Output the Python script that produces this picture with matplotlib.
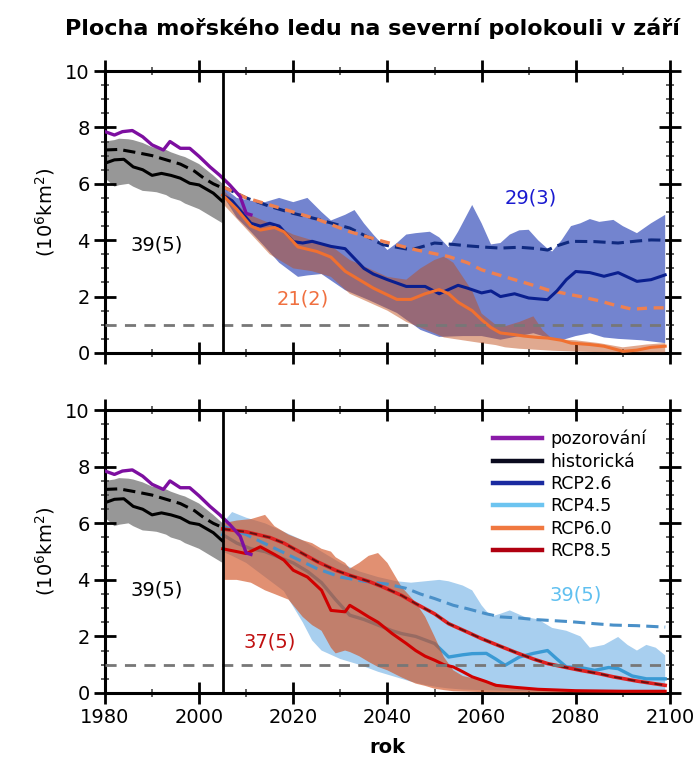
import matplotlib
matplotlib.use("Agg")
import matplotlib.pyplot as plt
from matplotlib.ticker import MultipleLocator
from matplotlib.lines import Line2D

plt.rcParams['font.family'] = ['DejaVu Sans']

# ---------------- data ----------------
obs_years = [1980, 1982, 1983.7, 1985.8, 1988, 1990, 1992.4, 1993.8, 1996, 1998, 2000, 2002.3, 2004.4, 2006.5, 2008.7, 2010, 2011]
obs_vals = [7.85, 7.73, 7.85, 7.89, 7.67, 7.38, 7.2, 7.5, 7.26, 7.26, 6.97, 6.6, 6.3, 5.96, 5.55, 4.95, 4.9]

hist_years = [1980, 1982, 1984, 1986, 1988, 1990, 1992, 1994, 1996, 1998, 2000, 2003, 2005]
hist_mean = [6.73, 6.85, 6.87, 6.6, 6.5, 6.3, 6.37, 6.3, 6.2, 6.02, 5.96, 5.67, 5.37]
hist_sub_years = [1980, 1983, 1987, 1990, 1993, 1996, 1999, 2001, 2003, 2005]
hist_sub = [7.2, 7.22, 7.1, 7.0, 6.85, 6.7, 6.45, 6.2, 6.0, 5.85]
hist_band_years = [1980, 1982, 1983, 1985, 1986, 1988, 1990, 1991, 1993, 1994, 1996, 1997, 2000, 2003, 2005]
hist_band_hi = [7.5, 7.55, 7.6, 7.58, 7.55, 7.45, 7.3, 7.28, 7.2, 7.12, 7.0, 6.95, 6.7, 6.3, 6.0]
hist_band_lo = [6.2, 5.9, 5.95, 6.0, 5.9, 5.75, 5.72, 5.7, 5.6, 5.5, 5.4, 5.3, 5.1, 4.8, 4.6]

# RCP2.6
r26_years = [2005, 2007, 2009, 2011, 2013, 2015, 2017, 2020, 2022, 2024, 2028, 2031, 2033, 2035, 2037, 2040, 2044, 2048, 2051, 2053, 2055, 2057, 2060, 2062, 2064, 2067, 2070, 2074, 2076, 2078, 2080, 2083, 2086, 2089, 2093, 2096, 2099]
r26_mean = [5.6, 5.4, 5.0, 4.6, 4.5, 4.6, 4.5, 3.95, 3.9, 3.96, 3.78, 3.7, 3.35, 3.0, 2.8, 2.6, 2.36, 2.36, 2.1, 2.25, 2.4, 2.3, 2.13, 2.2, 2.0, 2.1, 1.95, 1.89, 2.2, 2.6, 2.89, 2.85, 2.72, 2.85, 2.54, 2.6, 2.77]
r26_sub_years = [2005, 2010, 2015, 2020, 2025, 2032, 2036, 2039, 2042, 2045, 2048, 2050, 2054, 2057, 2061, 2064, 2068, 2072, 2074, 2076, 2079, 2084, 2089, 2093, 2096, 2099]
r26_sub = [5.9, 5.5, 5.2, 4.95, 4.75, 4.43, 4.1, 3.84, 3.75, 3.66, 3.8, 3.9, 3.85, 3.8, 3.75, 3.72, 3.75, 3.7, 3.65, 3.8, 3.96, 3.95, 3.9, 3.97, 4.01, 4.0]
r26_hi_years = [2005, 2008, 2011, 2014, 2017, 2020, 2023, 2026, 2028, 2031, 2033, 2035, 2037, 2040, 2042, 2044, 2046, 2049, 2051, 2053, 2055, 2058, 2060, 2062, 2064, 2066, 2068, 2070, 2072, 2074, 2075, 2077, 2079, 2081, 2083, 2085, 2088, 2090, 2093, 2096, 2099]
r26_hi = [5.9, 5.5, 5.4, 5.35, 5.5, 5.35, 5.5, 5.0, 4.7, 4.9, 5.07, 4.6, 4.2, 3.65, 3.9, 4.2, 4.25, 4.3, 4.1, 3.75, 4.3, 5.25, 4.6, 3.85, 3.9, 4.2, 4.35, 4.37, 4.0, 3.7, 3.6, 4.0, 4.5, 4.6, 4.75, 4.65, 4.72, 4.5, 4.25, 4.6, 4.9]
r26_lo_years = [2005, 2008, 2011, 2014, 2017, 2021, 2023, 2026, 2031, 2036, 2042, 2047, 2051, 2056, 2060, 2064, 2068, 2071, 2074, 2077, 2080, 2083, 2086, 2089, 2094, 2099]
r26_lo = [5.6, 4.8, 4.3, 3.76, 3.2, 2.7, 2.75, 2.8, 2.23, 1.88, 1.42, 0.82, 0.57, 0.6, 0.6, 0.47, 0.6, 0.7, 0.55, 0.45, 0.6, 0.7, 0.55, 0.5, 0.45, 0.35]

# RCP6.0
r60_years = [2005, 2008, 2011, 2013, 2016, 2018, 2021, 2025, 2028, 2031, 2034, 2037, 2042, 2045, 2048, 2051, 2053, 2055, 2058, 2060, 2062, 2064, 2067, 2069, 2072, 2074, 2077, 2079, 2083, 2086, 2088, 2090, 2093, 2096, 2099]
r60_mean = [5.6, 5.1, 4.5, 4.36, 4.45, 4.3, 3.76, 3.6, 3.4, 2.9, 2.6, 2.3, 1.9, 1.9, 2.1, 2.25, 2.1, 1.8, 1.5, 1.18, 0.9, 0.71, 0.65, 0.6, 0.55, 0.53, 0.45, 0.35, 0.3, 0.24, 0.15, 0.06, 0.1, 0.2, 0.24]
r60_sub_years = [2005, 2010, 2015, 2020, 2025, 2032, 2039, 2046, 2053, 2057, 2060, 2064, 2067, 2071, 2074, 2078, 2081, 2085, 2088, 2092, 2096, 2099]
r60_sub = [5.9, 5.5, 5.25, 5.0, 4.75, 4.3, 3.96, 3.66, 3.42, 3.2, 2.95, 2.75, 2.6, 2.4, 2.24, 2.1, 2.0, 1.85, 1.71, 1.55, 1.6, 1.6]
r60_band_years = [2005, 2010, 2015, 2020, 2024, 2028, 2032, 2036, 2040, 2044, 2047, 2050, 2052, 2054, 2056, 2058, 2060, 2063, 2065, 2068, 2071, 2073, 2075, 2080, 2085, 2090, 2095, 2099]
r60_hi = [5.8, 4.95, 4.6, 4.2, 4.0, 3.8, 3.3, 3.0, 2.7, 2.6, 3.0, 3.3, 3.42, 3.2, 2.7, 2.2, 1.4, 1.0, 0.95, 1.1, 1.3, 0.8, 0.5, 0.45, 0.35, 0.2, 0.3, 0.35]
r60_lo = [5.3, 4.4, 3.5, 3.0, 2.9, 2.7, 2.1, 1.8, 1.5, 1.1, 0.9, 0.7, 0.55, 0.5, 0.45, 0.4, 0.35, 0.28, 0.2, 0.15, 0.12, 0.1, 0.08, 0.05, 0.03, 0.02, 0.02, 0.02]

# RCP4.5
r45_years = [2005, 2008, 2011, 2014, 2017, 2020, 2023, 2026, 2029, 2032, 2035, 2038, 2041, 2043, 2046, 2050, 2053, 2056, 2058, 2061, 2063, 2065, 2068, 2071, 2074, 2076, 2078, 2081, 2084, 2087, 2089, 2092, 2095, 2099]
r45_mean = [5.6, 5.3, 5.1, 5.0, 4.8, 4.6, 4.3, 3.9, 3.3, 2.75, 2.6, 2.4, 2.2, 2.1, 2.0, 1.75, 1.27, 1.35, 1.39, 1.4, 1.2, 0.98, 1.27, 1.4, 1.5, 1.2, 0.92, 0.9, 0.8, 0.9, 0.86, 0.6, 0.5, 0.5]
r45_sub_years = [2005, 2010, 2015, 2020, 2025, 2030, 2035, 2040, 2044, 2047, 2050, 2054, 2057, 2061, 2064, 2068, 2071, 2074, 2079, 2084, 2088, 2093, 2099]
r45_sub = [5.9, 5.6, 5.2, 4.8, 4.4, 4.1, 3.95, 3.85, 3.7, 3.5, 3.34, 3.1, 2.98, 2.8, 2.69, 2.65, 2.6, 2.57, 2.52, 2.45, 2.4, 2.38, 2.33]
r45_band_years = [2005, 2007, 2010, 2014, 2018, 2022, 2024, 2026, 2030, 2034, 2038, 2042, 2045, 2048, 2051, 2053, 2056, 2058, 2060, 2062, 2064, 2066, 2069, 2072, 2075, 2078, 2081, 2083, 2086, 2089, 2091, 2093, 2095, 2097, 2099]
r45_hi = [6.0, 6.4, 6.2, 6.0, 5.7, 5.4, 5.2, 5.0, 4.6, 4.3, 4.1, 3.95, 3.9, 3.95, 4.0, 3.95, 3.8, 3.63, 3.1, 2.7, 2.8, 2.92, 2.7, 2.6, 2.3, 2.2, 2.0, 1.6, 1.7, 1.98, 1.7, 1.5, 1.7, 1.6, 1.33]
r45_lo = [5.0, 4.85, 4.6, 4.1, 3.6, 2.5, 1.86, 1.5, 1.2, 1.0, 0.75, 0.55, 0.4, 0.28, 0.2, 0.16, 0.12, 0.11, 0.1, 0.09, 0.08, 0.07, 0.06, 0.06, 0.05, 0.05, 0.05, 0.05, 0.05, 0.05, 0.05, 0.05, 0.05, 0.05, 0.05]

# RCP8.5
r85_years = [2005, 2008, 2010, 2013, 2016, 2018, 2020, 2023, 2026, 2028, 2031, 2032, 2034, 2036, 2038, 2041, 2044, 2046, 2048, 2050, 2052, 2054, 2056, 2058, 2061, 2063, 2067, 2072, 2080, 2090, 2099]
r85_mean = [5.1, 5.0, 4.93, 5.17, 4.9, 4.7, 4.34, 4.1, 3.63, 2.92, 2.87, 3.1, 2.9, 2.69, 2.5, 2.1, 1.75, 1.5, 1.3, 1.16, 1.0, 0.92, 0.75, 0.57, 0.4, 0.27, 0.2, 0.13, 0.08, 0.06, 0.06]
r85_sub_years = [2005, 2010, 2015, 2018, 2022, 2025, 2029, 2032, 2036, 2039, 2043, 2046, 2050, 2053, 2057, 2060, 2064, 2067, 2071, 2074, 2078, 2081, 2085, 2088, 2093, 2099]
r85_sub = [5.8, 5.7, 5.5, 5.3, 4.93, 4.65, 4.34, 4.16, 3.95, 3.75, 3.45, 3.16, 2.8, 2.45, 2.15, 1.92, 1.65, 1.45, 1.2, 1.04, 0.9, 0.8, 0.68, 0.57, 0.42, 0.27]
r85_band_years = [2005, 2008, 2011, 2014, 2016, 2019, 2022, 2024, 2026, 2028, 2029, 2031, 2032, 2034, 2036, 2038, 2040, 2043, 2046, 2048, 2050, 2052, 2054, 2056, 2060, 2065, 2070, 2080, 2090, 2099]
r85_hi = [6.0, 6.1, 6.15, 6.3, 5.9, 5.6, 5.4, 5.3, 5.1, 5.0, 4.8, 4.6, 4.4, 4.6, 4.85, 4.95, 4.6, 3.75, 3.2, 2.7, 2.0, 1.27, 0.8, 0.6, 0.45, 0.25, 0.15, 0.1, 0.07, 0.05]
r85_lo = [4.0, 4.0, 3.9, 3.63, 3.5, 3.3, 2.69, 2.4, 2.2, 1.6, 1.4, 1.5, 1.45, 1.3, 1.1, 0.92, 0.8, 0.55, 0.33, 0.25, 0.15, 0.1, 0.06, 0.05, 0.03, 0.02, 0.02, 0.02, 0.02, 0.02]

legend_labels = ['pozorování', 'historická', 'RCP2.6', 'RCP4.5', 'RCP6.0', 'RCP8.5']
legend_colors = ['#8a1aa8', '#0a0a1e', '#1a2aa0', '#6cc4f0', '#f07840', '#b00010']

title = 'Plocha mořského ledu na severní polokouli v září'
ylabel = '(10$^6$km$^2$)'
xlabel = 'rok'
xticks = [1980, 2000, 2020, 2040, 2060, 2080, 2100]
yticks = [0, 2, 4, 6, 8, 10]

# ---------------- figure ----------------
fig = plt.figure(figsize=(7.0, 7.64), dpi=100)
ax1 = fig.add_axes([0.15, 0.538, 0.807, 0.369])
ax2 = fig.add_axes([0.15, 0.093, 0.807, 0.370])


def band(ax, xh, yh, xl, yl, **kw):
    ax.fill(list(xh) + list(xl)[::-1], list(yh) + list(yl)[::-1], lw=0, **kw)


def common(ax, show_xlabels):
    band(ax, hist_band_years, hist_band_hi, hist_band_years, hist_band_lo,
         color='#858585', alpha=0.85, zorder=1)
    ax.set_xlim(1980, 2100)
    ax.set_ylim(0, 10)
    ax.set_xticks(xticks)
    ax.set_yticks(yticks)
    ax.xaxis.set_minor_locator(MultipleLocator(10))
    ax.yaxis.set_minor_locator(MultipleLocator(0.5))
    ax.tick_params(which='major', direction='inout', length=16, width=2.0,
                   top=True, right=True, labelsize=14, pad=3)
    ax.tick_params(which='minor', direction='inout', length=6, width=1.3,
                   top=True, right=True, color='#555555')
    if not show_xlabels:
        ax.tick_params(labelbottom=False)
    for s in ax.spines.values():
        s.set_linewidth(2.2)
    ax.axhline(1.0, color='#777777', lw=2.0, ls=(0, (4, 3)), zorder=6)
    ax.axvline(2005, color='black', lw=2.0, zorder=7)
    ax.set_ylabel(ylabel, fontsize=14, labelpad=6)


def historic(ax):
    ax.plot(hist_years, hist_mean, color='black', lw=2.2, zorder=5)
    ax.plot(hist_sub_years, hist_sub, color='black', lw=2.2, ls=(0, (4, 2)), zorder=5)
    ax.plot(obs_years, obs_vals, color='#7d0fa0', lw=2.4, zorder=6)


# top panel: RCP2.6 & RCP6.0
common(ax1, False)
band(ax1, r26_hi_years, r26_hi, r26_lo_years, r26_lo, color='#7384cf', zorder=2)
band(ax1, r60_band_years, r60_hi, r60_band_years, r60_lo, color='#c04c18', alpha=0.48, zorder=3)
ax1.plot(r26_sub_years, r26_sub, color='#102a80', lw=2.2, ls=(0, (4, 2)), zorder=4)
ax1.plot(r60_sub_years, r60_sub, color='#ee8050', lw=2.4, ls=(0, (3, 2)), zorder=4)
ax1.plot(r26_years, r26_mean, color='#0a1f8f', lw=2.2, zorder=5)
ax1.plot(r60_years, r60_mean, color='#f07030', lw=2.2, zorder=5)
historic(ax1)
ax1.text(1991, 3.84, '39(5)', fontsize=14, color='black', ha='center', va='center', zorder=8)
ax1.text(2022, 1.9, '21(2)', fontsize=14, color='#f07040', ha='center', va='center', zorder=8)
ax1.text(2070.5, 5.5, '29(3)', fontsize=14, color='#1a1ad0', ha='center', va='center', zorder=8)

# bottom panel: RCP4.5 & RCP8.5
common(ax2, True)
band(ax2, r45_band_years, r45_hi, r45_band_years, r45_lo, color='#a8cfef', zorder=2)
ax2.plot(r45_years, r45_mean, color='#3a9ad4', lw=2.4, zorder=2.5)
band(ax2, r85_band_years, r85_hi, r85_band_years, r85_lo, color='#d05020', alpha=0.63, zorder=3)
ax2.plot(r45_sub_years, r45_sub, color='#4a90c8', lw=2.2, ls=(0, (4, 2)), zorder=4)
ax2.plot(r85_sub_years, r85_sub, color='#e02020', lw=2.6, zorder=4)
ax2.plot(r85_sub_years, r85_sub, color='#6a1010', lw=1.4, ls=(0, (4, 3)), zorder=4)
ax2.plot(r85_years, r85_mean, color='#d00000', lw=2.2, zorder=5)
historic(ax2)
ax2.text(1991, 3.63, '39(5)', fontsize=14, color='black', ha='center', va='center', zorder=8)
ax2.text(2015, 1.8, '37(5)', fontsize=14, color='#c01010', ha='center', va='center', zorder=8)
ax2.text(2080, 3.46, '39(5)', fontsize=14, color='#60c0f0', ha='center', va='center', zorder=8)
ax2.set_xlabel(xlabel, fontsize=14, fontweight='bold', labelpad=8)

handles = [Line2D([], [], color=c, lw=3.2) for c in legend_colors]
ax2.legend(handles, legend_labels, loc='upper left', bbox_to_anchor=(486 / 700, 1 - 423 / 764),
           bbox_transform=fig.transFigure, frameon=False, fontsize=12.5,
           handlelength=2.8, handletextpad=0.5, labelspacing=0.25, borderaxespad=0)

fig.text(372 / 700, 1 - 28 / 764, title, fontsize=16, fontweight='bold', ha='center', va='center')

fig.savefig('out.png', dpi=100)
